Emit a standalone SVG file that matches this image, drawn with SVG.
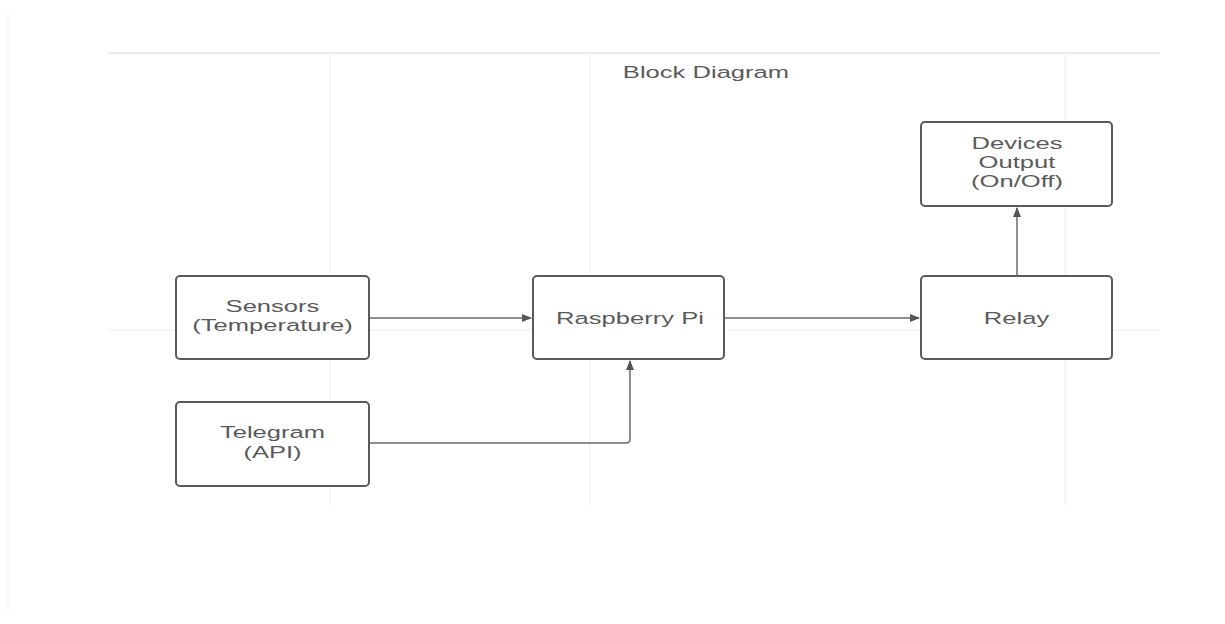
<svg xmlns="http://www.w3.org/2000/svg" width="1225" height="624" viewBox="0 0 1225 624">
<style>
.bg{stroke:#f3f3f3;stroke-width:1.5;fill:none}
.box{fill:#ffffff;stroke:#5a5a5a;stroke-width:2}
.lbl{font-family:"Liberation Sans",Arial,sans-serif;font-size:16.5px;fill:#5a5a5a;text-anchor:middle}
.ln{stroke:#6a6a6a;stroke-width:1.5;fill:none}
</style>
<defs>
<marker id="ah" markerWidth="10" markerHeight="10" refX="9" refY="5" orient="auto" markerUnits="userSpaceOnUse">
<path d="M0,1 L10,5 L0,9 Z" fill="#555"/>
</marker>
</defs>
<rect width="1225" height="624" fill="#ffffff"/>
<g id="background">
<line class="bg" x1="107" y1="53" x2="1160" y2="53" style="stroke:#e6e6e6"/>
<line class="bg" x1="330" y1="53" x2="330" y2="505"/>
<line class="bg" x1="590" y1="53" x2="590" y2="505"/>
<line class="bg" x1="1065" y1="53" x2="1065" y2="505"/>
<line class="bg" x1="107" y1="330" x2="1160" y2="330"/>
<line class="bg" x1="8" y1="15" x2="8" y2="610"/>
</g>
<text class="lbl" transform="matrix(1.55 0 0 1 706 78)">Block Diagram</text>
<g id="connectors">
<line class="ln" x1="369" y1="318" x2="531" y2="318" marker-end="url(#ah)"/>
<line class="ln" x1="724" y1="318" x2="919" y2="318" marker-end="url(#ah)"/>
<path class="ln" d="M369,443 H626 Q630,443 630,439 V361" marker-end="url(#ah)"/>
<line class="ln" x1="1017" y1="276" x2="1017" y2="208" marker-end="url(#ah)"/>
</g>
<g id="sensors">
<rect class="box" x="176" y="276" width="193" height="83" rx="4"/>
<text class="lbl" transform="matrix(1.55 0 0 1 272.5 312)">Sensors</text>
<text class="lbl" transform="matrix(1.55 0 0 1 272.5 331)">(Temperature)</text>
</g>
<g id="telegram">
<rect class="box" x="176" y="402" width="193" height="84" rx="4"/>
<text class="lbl" transform="matrix(1.55 0 0 1 272.5 438)">Telegram</text>
<text class="lbl" transform="matrix(1.55 0 0 1 272.5 458)">(API)</text>
</g>
<g id="raspberry">
<rect class="box" x="533" y="276" width="191" height="83" rx="4"/>
<text class="lbl" transform="matrix(1.55 0 0 1 630 324)">Raspberry Pi</text>
</g>
<g id="relay">
<rect class="box" x="921" y="276" width="191" height="83" rx="4"/>
<text class="lbl" transform="matrix(1.55 0 0 1 1016.5 324)">Relay</text>
</g>
<g id="devices">
<rect class="box" x="921" y="122" width="191" height="84" rx="4"/>
<text class="lbl" transform="matrix(1.55 0 0 1 1017 149)">Devices</text>
<text class="lbl" transform="matrix(1.55 0 0 1 1017 168)">Output</text>
<text class="lbl" transform="matrix(1.55 0 0 1 1017 187)">(On/Off)</text>
</g>
</svg>
